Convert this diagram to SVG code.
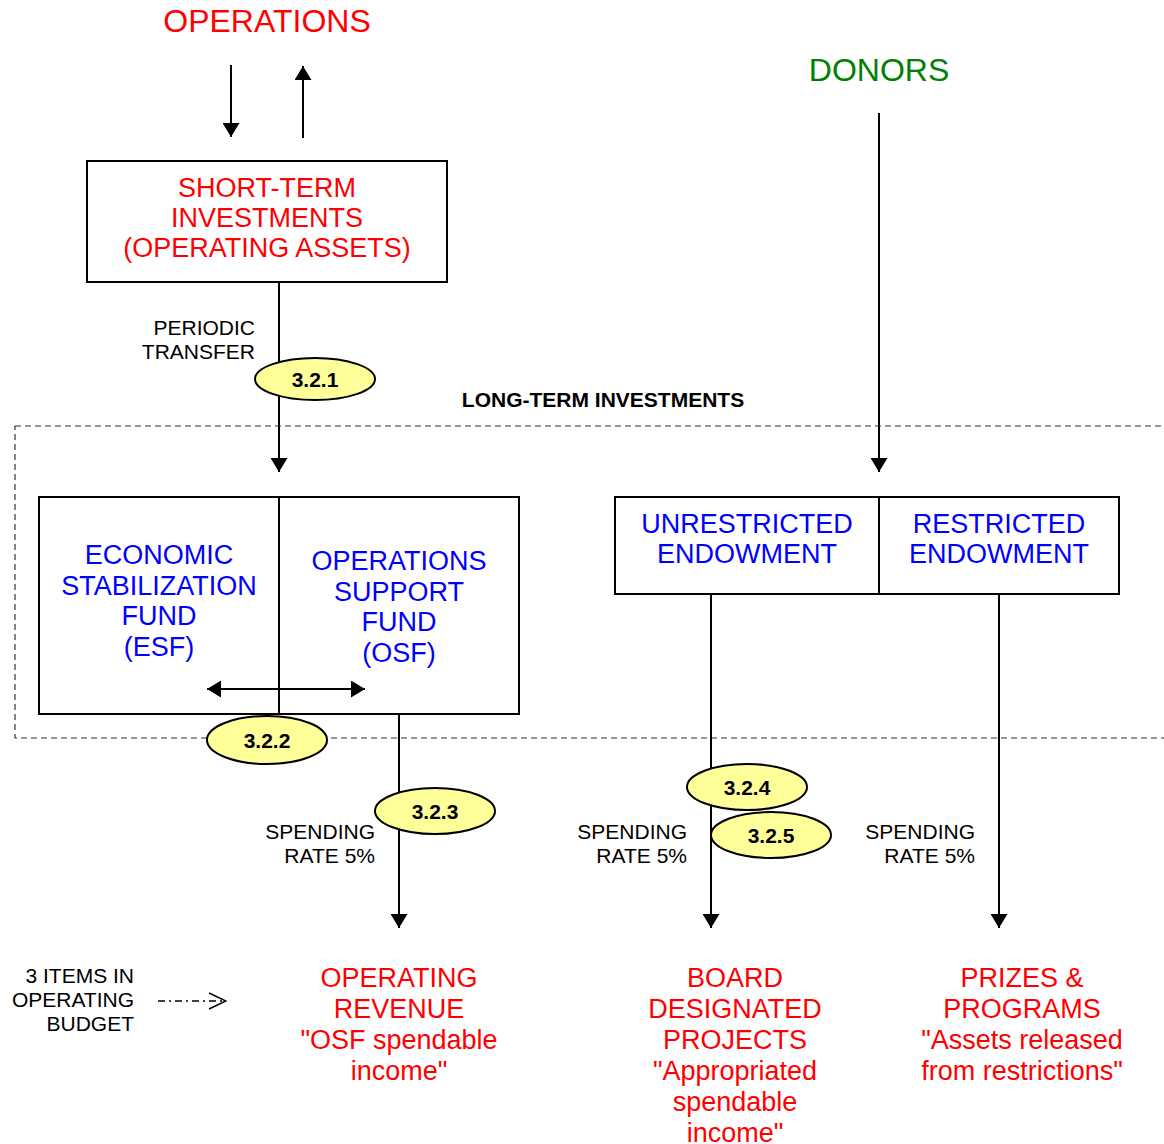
<svg xmlns="http://www.w3.org/2000/svg" width="1164" height="1144" viewBox="0 0 1164 1144">
<style>
text{font-family:"Liberation Sans",Arial,sans-serif}
.t{font-size:27px;text-anchor:middle}
.red{fill:#ff0000}
.blue{fill:#0000ff}
.lbl{font-size:21px;fill:#000}
.num{font-size:21px;font-weight:bold;text-anchor:middle}
.box{fill:#fff;stroke:#000;stroke-width:2}
.ell{fill:#ffff99;stroke:#000;stroke-width:2}
.ln{stroke:#000;stroke-width:2;fill:none}
</style>
<defs>
<marker id="ah" viewBox="0 0 14 17" refX="14" refY="8.5" markerWidth="14" markerHeight="17" markerUnits="userSpaceOnUse" orient="auto">
<path d="M0,0 L14,8.5 L0,17 Z" fill="#000"/>
</marker>
<marker id="ahs" viewBox="0 0 14 17" refX="0" refY="8.5" markerWidth="14" markerHeight="17" markerUnits="userSpaceOnUse" orient="auto">
<path d="M14,0 L0,8.5 L14,17 Z" fill="#000"/>
</marker>
<marker id="open" viewBox="0 0 20 20" refX="19" refY="10" markerWidth="20" markerHeight="20" markerUnits="userSpaceOnUse" orient="auto">
<path d="M2,2 L19,10 L2,18" fill="none" stroke="#000" stroke-width="1.5"/>
</marker>
</defs>
<rect width="1164" height="1144" fill="#fff"/>

<rect id="longterm" x="15" y="426" width="1170" height="312" fill="none" stroke="#333" stroke-width="1.2" stroke-dasharray="6,4"/>
<text x="603" y="407" font-size="21" font-weight="bold" text-anchor="middle">LONG-TERM INVESTMENTS</text>

<g id="operations"><text x="267" y="32" font-size="32" text-anchor="middle" class="red">OPERATIONS</text></g>
<g id="donors"><text x="879" y="81" font-size="32" text-anchor="middle" fill="#008000">DONORS</text></g>

<g id="connectors">
<line class="ln" x1="231" y1="65" x2="231" y2="137" marker-end="url(#ah)"/>
<line class="ln" x1="303" y1="138" x2="303" y2="66" marker-end="url(#ah)"/>
<line class="ln" x1="279" y1="282" x2="279" y2="472" marker-end="url(#ah)"/>
<line class="ln" x1="879" y1="113" x2="879" y2="472" marker-end="url(#ah)"/>
<line class="ln" x1="399" y1="714" x2="399" y2="928" marker-end="url(#ah)"/>
<line class="ln" x1="711" y1="594" x2="711" y2="928" marker-end="url(#ah)"/>
<line class="ln" x1="999" y1="594" x2="999" y2="928" marker-end="url(#ah)"/>
<line x1="158" y1="1001" x2="226" y2="1001" stroke="#000" stroke-width="1.5" stroke-dasharray="7,4,2,4" marker-end="url(#open)"/>
</g>

<g id="shortterm">
<rect class="box" x="87" y="161" width="360" height="121"/>
<text class="t red" x="267" y="197">SHORT-TERM</text>
<text class="t red" x="267" y="227">INVESTMENTS</text>
<text class="t red" x="267" y="257">(OPERATING ASSETS)</text>
</g>

<g id="periodic">
<text class="lbl" x="255" y="335" text-anchor="end">PERIODIC</text>
<text class="lbl" x="255" y="359" text-anchor="end">TRANSFER</text>
</g>

<g id="e321"><ellipse class="ell" cx="315" cy="379" rx="60" ry="21"/><text class="num" x="315" y="387">3.2.1</text></g>

<g id="esf">
<rect class="box" x="39" y="497" width="240" height="217"/>
<text class="t blue" x="159" y="564">ECONOMIC</text>
<text class="t blue" x="159" y="595">STABILIZATION</text>
<text class="t blue" x="159" y="625">FUND</text>
<text class="t blue" x="159" y="656">(ESF)</text>
</g>
<g id="osf">
<rect class="box" x="279" y="497" width="240" height="217"/>
<text class="t blue" x="399" y="570">OPERATIONS</text>
<text class="t blue" x="399" y="601">SUPPORT</text>
<text class="t blue" x="399" y="631">FUND</text>
<text class="t blue" x="399" y="662">(OSF)</text>
</g>
<g id="exchange">
<line class="ln" x1="207" y1="689" x2="365" y2="689" marker-start="url(#ahs)" marker-end="url(#ah)"/>
</g>

<g id="unrestricted">
<rect class="box" x="615" y="497" width="264" height="97"/>
<text class="t blue" x="747" y="533">UNRESTRICTED</text>
<text class="t blue" x="747" y="563">ENDOWMENT</text>
</g>
<g id="restricted">
<rect class="box" x="879" y="497" width="240" height="97"/>
<text class="t blue" x="999" y="533">RESTRICTED</text>
<text class="t blue" x="999" y="563">ENDOWMENT</text>
</g>

<g id="e322"><ellipse class="ell" cx="267" cy="740" rx="60" ry="24"/><text class="num" x="267" y="748">3.2.2</text></g>
<g id="e323"><ellipse class="ell" cx="435" cy="811" rx="60" ry="23"/><text class="num" x="435" y="819">3.2.3</text></g>
<g id="e324"><ellipse class="ell" cx="747" cy="787" rx="60" ry="23"/><text class="num" x="747" y="795">3.2.4</text></g>
<g id="e325"><ellipse class="ell" cx="771" cy="835" rx="60" ry="23"/><text class="num" x="771" y="843">3.2.5</text></g>

<g id="spend1"><text class="lbl" x="375" y="839" text-anchor="end">SPENDING</text><text class="lbl" x="375" y="863" text-anchor="end">RATE 5%</text></g>
<g id="spend2"><text class="lbl" x="687" y="839" text-anchor="end">SPENDING</text><text class="lbl" x="687" y="863" text-anchor="end">RATE 5%</text></g>
<g id="spend3"><text class="lbl" x="975" y="839" text-anchor="end">SPENDING</text><text class="lbl" x="975" y="863" text-anchor="end">RATE 5%</text></g>

<g id="items">
<text class="lbl" x="134" y="983" text-anchor="end">3 ITEMS IN</text>
<text class="lbl" x="134" y="1007" text-anchor="end">OPERATING</text>
<text class="lbl" x="134" y="1031" text-anchor="end">BUDGET</text>
</g>

<g id="revenue">
<text class="t red" x="399" y="987">OPERATING</text>
<text class="t red" x="399" y="1018">REVENUE</text>
<text class="t red" x="399" y="1049">"OSF spendable</text>
<text class="t red" x="399" y="1080">income"</text>
</g>
<g id="board">
<text class="t red" x="735" y="987">BOARD</text>
<text class="t red" x="735" y="1018">DESIGNATED</text>
<text class="t red" x="735" y="1049">PROJECTS</text>
<text class="t red" x="735" y="1080">"Appropriated</text>
<text class="t red" x="735" y="1111">spendable</text>
<text class="t red" x="735" y="1142">income"</text>
</g>
<g id="prizes">
<text class="t red" x="1022" y="987">PRIZES &amp;</text>
<text class="t red" x="1022" y="1018">PROGRAMS</text>
<text class="t red" x="1022" y="1049">"Assets released</text>
<text class="t red" x="1022" y="1080">from restrictions"</text>
</g>
</svg>
